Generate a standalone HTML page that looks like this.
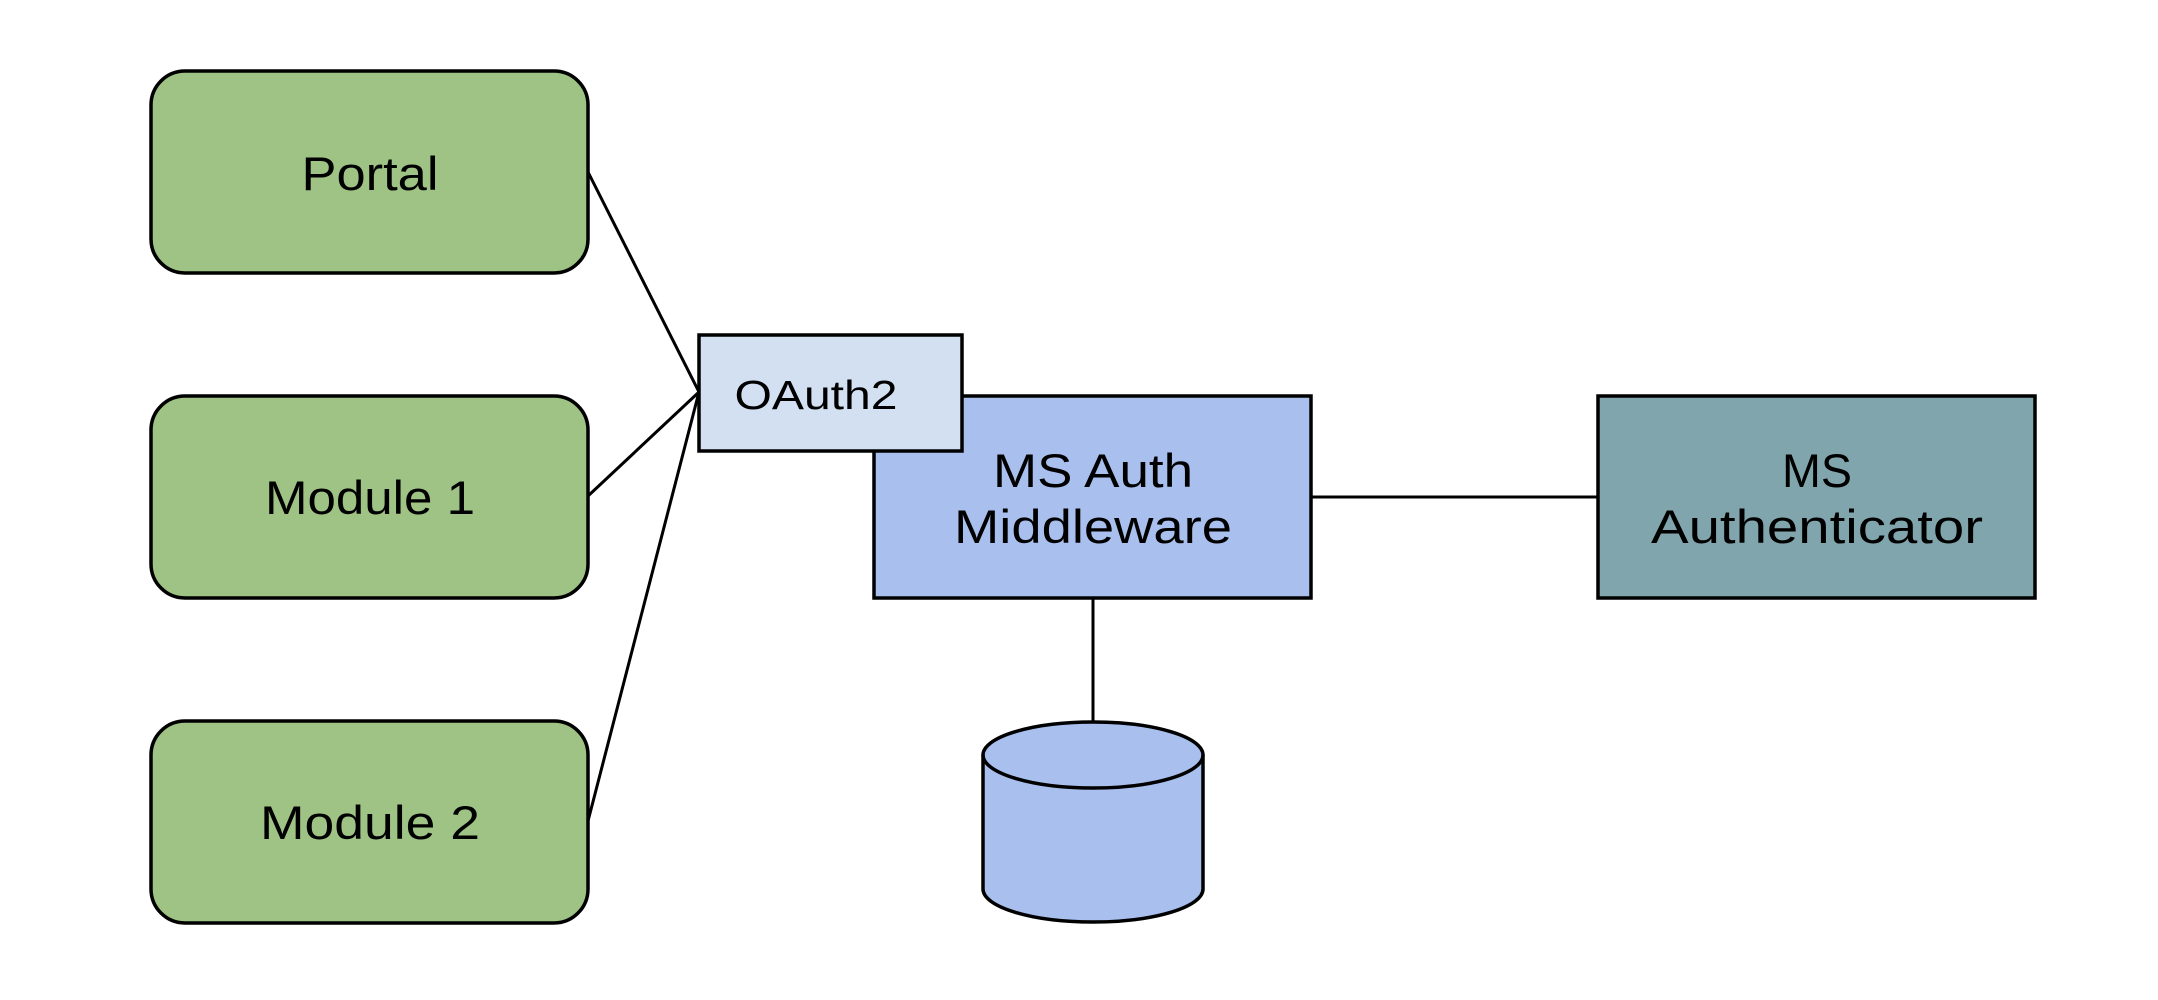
<!DOCTYPE html>
<html><head><meta charset="utf-8"><style>html,body{margin:0;padding:0;background:#fff}svg{display:block}</style></head>
<body>
<svg width="2158" height="1000" viewBox="0 0 2158 1000" xmlns="http://www.w3.org/2000/svg" font-family="Liberation Sans, sans-serif" fill="#000">
<g stroke="#000" stroke-width="3" fill="none">
<line x1="588" y1="172" x2="699" y2="392"/>
<line x1="588" y1="496" x2="699" y2="392"/>
<line x1="588" y1="821" x2="699" y2="392"/>
<line x1="1311" y1="497" x2="1598" y2="497"/>
<line x1="1093" y1="597" x2="1093" y2="722"/>
</g>
<g stroke="#000" stroke-width="3.5">
<rect x="151" y="71" width="437" height="202" rx="34" fill="#9ec384"/>
<rect x="151" y="396" width="437" height="202" rx="34" fill="#9ec384"/>
<rect x="151" y="721" width="437" height="202" rx="34" fill="#9ec384"/>
<rect x="874" y="396" width="437" height="202" fill="#a9c0ee"/>
<rect x="699" y="335" width="263" height="116" fill="#d3e0f1"/>
<rect x="1598" y="396" width="437" height="202" fill="#80a5ad"/>
<path d="M983 755 L983 889 A110 33 0 0 0 1203 889 L1203 755 A110 33 0 0 0 983 755 Z" fill="#a9c0ee"/>
<path d="M983 755 A110 33 0 0 0 1203 755" fill="none"/>
</g>
<g font-size="47" text-anchor="middle" lengthAdjust="spacingAndGlyphs">
<text x="370" y="190" textLength="137" lengthAdjust="spacingAndGlyphs">Portal</text>
<text x="370" y="514" textLength="210" lengthAdjust="spacingAndGlyphs">Module 1</text>
<text x="370" y="839" textLength="220" lengthAdjust="spacingAndGlyphs">Module 2</text>
<text x="1093" y="487" textLength="200" lengthAdjust="spacingAndGlyphs">MS Auth</text>
<text x="1093" y="543" textLength="278" lengthAdjust="spacingAndGlyphs">Middleware</text>
<text x="1817" y="487" textLength="70" lengthAdjust="spacingAndGlyphs">MS</text>
<text x="1817" y="543" textLength="332" lengthAdjust="spacingAndGlyphs">Authenticator</text>
</g>
<text x="816" y="409" font-size="41" text-anchor="middle" textLength="163" lengthAdjust="spacingAndGlyphs">OAuth2</text>
</svg>
</body></html>
